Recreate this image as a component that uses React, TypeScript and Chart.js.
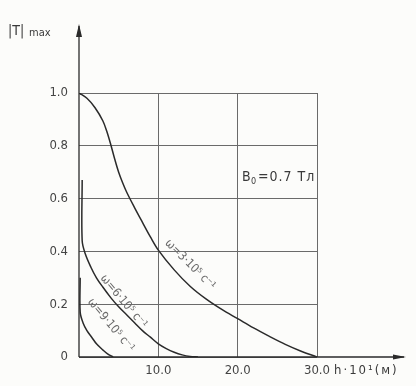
import React, { useEffect, useRef } from "react";
import { Chart, registerables } from "chart.js";

Chart.register(...registerables);

// Curve ω=3·10⁵ c⁻¹
const h1 = [0, 1, 2, 3, 3.5, 4, 4.5, 5, 5.5, 6, 7, 8, 9, 10, 12, 14, 16, 18, 20, 22, 24, 26, 28, 30];
const t1 = [1.0, 0.98, 0.945, 0.895, 0.855, 0.805, 0.75, 0.7, 0.66, 0.625, 0.566, 0.51, 0.455, 0.405, 0.33, 0.268, 0.22, 0.18, 0.145, 0.11, 0.078, 0.048, 0.022, 0.0];
// Curve ω=6·10⁵ c⁻¹
const h2 = [0.4, 0.4, 0.8, 1.5, 2.2, 3, 4, 5, 6, 7, 8, 9, 10, 11, 12, 13, 14, 15];
const t2 = [0.67, 0.44, 0.39, 0.34, 0.3, 0.265, 0.225, 0.19, 0.16, 0.13, 0.1, 0.075, 0.05, 0.032, 0.018, 0.008, 0.002, 0.0];
// Curve ω=9·10⁵ c⁻¹
const h3 = [0.15, 0.15, 0.5, 1, 1.6, 2.2, 3, 3.6, 4.3];
const t3 = [0.3, 0.17, 0.13, 0.1, 0.075, 0.05, 0.027, 0.012, 0.0];

const xTickLabels: Record<number, string> = { 10: "10.0", 20: "20.0", 30: "30.0" };
const yTickLabels: Record<string, string> = { "0": "0", "0.2": "0.2", "0.4": "0.4", "0.6": "0.6", "0.8": "0.8", "1": "1.0" };

const curveLabels = [
  { text: "ω=3·10⁵ c⁻¹", h: 14.0, t: 0.35, angle: 45 },
  { text: "ω=6·10⁵ c⁻¹", h: 5.6, t: 0.21, angle: 50 },
  { text: "ω=9·10⁵ c⁻¹", h: 4.0, t: 0.12, angle: 50 },
];

const FONT = "'DejaVu Sans Condensed', 'Liberation Sans Narrow', 'DejaVu Sans', sans-serif";
const INK = "#2a2a2a";

const pts = (xs: number[], ys: number[]) => xs.map((x, i) => ({ x, y: ys[i] }));

export default function App() {
  const ref = useRef<HTMLCanvasElement | null>(null);
  useEffect(() => {
    if (!ref.current) return;
    const decor = {
      id: "decor",
      beforeDraw(chart: any) {
        const c = chart.ctx;
        c.save();
        c.fillStyle = "#fcfcfa";
        c.fillRect(0, 0, chart.width, chart.height);
        c.restore();
      },
      afterDraw(chart: any) {
        const c = chart.ctx;
        const xs = chart.scales.x;
        const ys = chart.scales.y;
        const x0 = xs.getPixelForValue(0);
        const y0 = ys.getPixelForValue(0);
        c.save();
        c.strokeStyle = INK;
        c.fillStyle = INK;
        c.lineWidth = 1.3;
        // y axis
        c.beginPath();
        c.moveTo(x0, y0);
        c.lineTo(x0, 26);
        c.stroke();
        c.beginPath();
        c.moveTo(x0, 24);
        c.lineTo(x0 - 3, 37);
        c.lineTo(x0 + 3, 37);
        c.closePath();
        c.fill();
        // x axis
        c.beginPath();
        c.moveTo(x0, y0);
        c.lineTo(404, y0);
        c.stroke();
        c.beginPath();
        c.moveTo(406, y0);
        c.lineTo(393, y0 - 2.5);
        c.lineTo(393, y0 + 2.5);
        c.closePath();
        c.fill();
        // axis titles
        c.fillStyle = "#3a3a3a";
        c.textBaseline = "middle";
        c.textAlign = "left";
        c.font = `14px ${FONT}`;
        c.fillText("|T|", 8, 31);
        c.font = `11px ${FONT}`;
        c.fillText("max", 29, 33);
        c.font = `13px ${FONT}`;
        (c as any).letterSpacing = "2px";
        c.fillText("h·10¹(м)", 334, 371);
        (c as any).letterSpacing = "1px";
        // B0 label
        c.font = `14px ${FONT}`;
        c.fillText("B", 242, 177);
        c.font = `9px ${FONT}`;
        c.fillText("0", 251, 182);
        c.font = `14px ${FONT}`;
        c.fillText("=0.7 Тл", 258, 177);
        (c as any).letterSpacing = "0px";
        // curve labels
        c.fillStyle = "#6a6a6a";
        c.font = `12px ${FONT}`;
        c.textAlign = "center";
        for (const l of curveLabels) {
          const px = xs.getPixelForValue(l.h);
          const py = ys.getPixelForValue(l.t);
          c.save();
          c.translate(px, py);
          c.rotate((l.angle * Math.PI) / 180);
          c.fillText(l.text, 0, 0);
          c.restore();
        }
        c.restore();
      },
    };
    const ds = (data: any) => ({
      data,
      borderColor: INK,
      borderWidth: 1.5,
      pointRadius: 0,
      tension: 0.35,
      fill: false,
    });
    const chart = new Chart(ref.current, {
      type: "line",
      data: {
        datasets: [ds(pts(h1, t1)), ds(pts(h2, t2)), ds(pts(h3, t3))],
      },
      options: {
        animation: false,
        responsive: false,
        devicePixelRatio: 1,
        parsing: false,
        layout: { padding: { top: 93, right: 99, left: 0, bottom: 0 } },
        plugins: { legend: { display: false }, tooltip: { enabled: false } },
        scales: {
          x: {
            type: "linear",
            min: 0,
            max: 30,
            afterBuildTicks: (s: any) => {
              s.ticks = [10, 20, 30].map((v) => ({ value: v }));
            },
            afterFit: (s: any) => {
              s.height = 29;
            },
            ticks: {
              callback: (v: any) => xTickLabels[Number(v)] ?? "",
              color: "#444",
              font: { family: FONT, size: 13 },
              padding: 6,
              maxRotation: 0,
            },
            grid: { color: "#6a6a6a", lineWidth: 1, drawTicks: false },
            border: { display: false },
          },
          y: {
            type: "linear",
            min: 0,
            max: 1,
            afterBuildTicks: (s: any) => {
              s.ticks = [0, 0.2, 0.4, 0.6, 0.8, 1].map((v) => ({ value: v }));
            },
            afterFit: (s: any) => {
              s.width = 79;
            },
            ticks: {
              callback: (v: any) => yTickLabels[String(Math.round(Number(v) * 10) / 10)] ?? "",
              color: "#444",
              font: { family: FONT, size: 13 },
              padding: 11,
            },
            grid: { color: "#6a6a6a", lineWidth: 1, drawTicks: false },
            border: { display: false },
          },
        },
      },
      plugins: [decor],
    });
    return () => chart.destroy();
  }, []);
  return (
    <div style={{ position: "absolute", left: 0, top: 0, width: 416, height: 386 }}>
      <canvas ref={ref} width={416} height={386} style={{ width: 416, height: 386 }} />
    </div>
  );
}
